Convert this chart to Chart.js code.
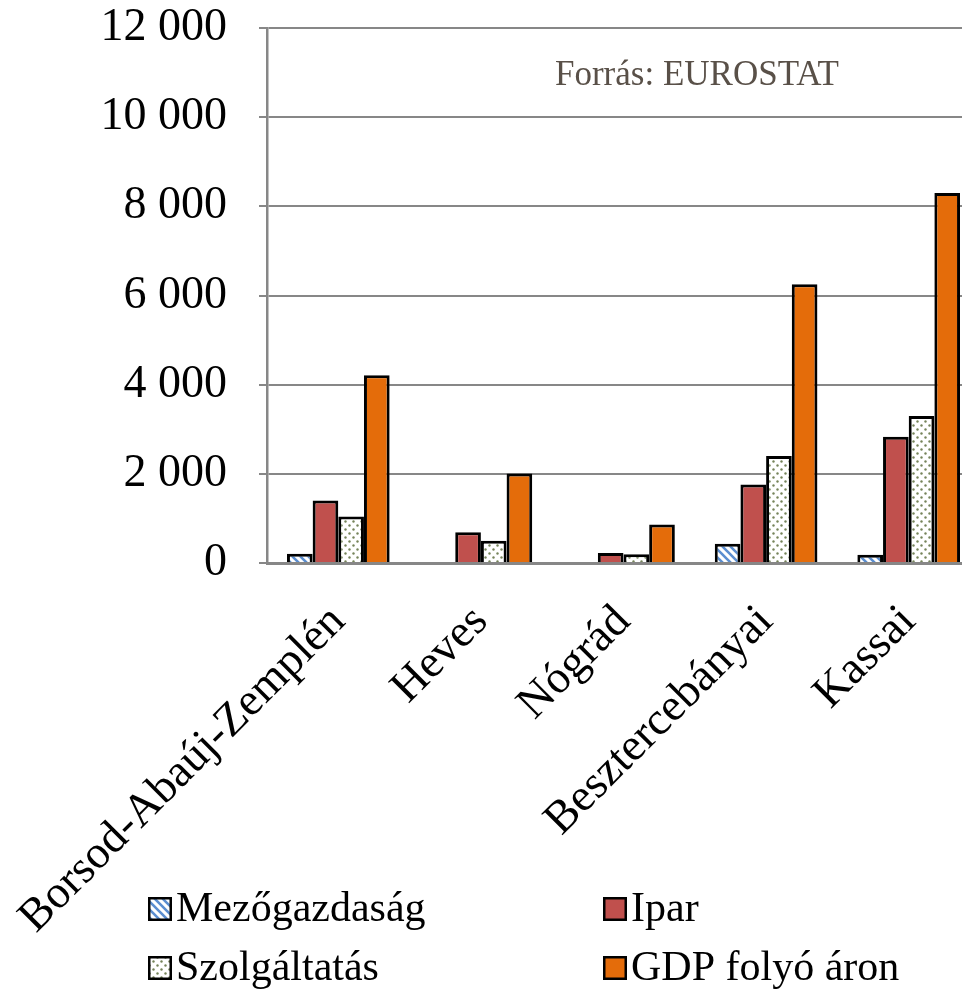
<!DOCTYPE html>
<html>
<head>
<meta charset="utf-8">
<script src="https://cdn.jsdelivr.net/npm/chart.js@4.4.1/dist/chart.umd.min.js"></script>
<style>
  html, body { margin: 0; padding: 0; background: #fff; overflow: hidden; }
  #wrap { position: relative; width: 962px; height: 989px; overflow: hidden; }
  canvas { display: block; }
</style>
</head>
<body>
<div id="wrap"><canvas id="c" width="1000" height="989"></canvas></div>
<script>
// ---- data ----
const categories = ['Borsod-Abaúj-Zemplén', 'Heves', 'Nógrád', 'Besztercebányai', 'Kassai'];
const seriesNames = ['Mezőgazdaság', 'Ipar', 'Szolgáltatás', 'GDP folyó áron'];
const mezogazdasag = [205, null, null, 430, 185];
const ipar = [1400, 690, 225, 1760, 2830];
const szolgaltatas = [1045, 500, 195, 2400, 3300];
const gdp = [4210, 2010, 865, 6250, 8300];
const yTicks = [0, 2000, 4000, 6000, 8000, 10000, 12000];
const sourceNote = 'Forrás: EUROSTAT';

const canvas = document.getElementById('c');
const ctx = canvas.getContext('2d');

function stripePattern() {
  const c = document.createElement('canvas');
  c.width = 8; c.height = 8;
  const x = c.getContext('2d');
  x.fillStyle = '#ffffff'; x.fillRect(0, 0, 8, 8);
  x.strokeStyle = '#5B8ED0'; x.lineWidth = 2.6;
  x.beginPath();
  x.moveTo(-2, -2); x.lineTo(10, 10);
  x.moveTo(-2, 6); x.lineTo(2, 10);
  x.moveTo(6, -2); x.lineTo(10, 2);
  x.stroke();
  return ctx.createPattern(c, 'repeat');
}
function dotPattern() {
  const c = document.createElement('canvas');
  c.width = 8; c.height = 8;
  const x = c.getContext('2d');
  x.fillStyle = '#ffffff'; x.fillRect(0, 0, 8, 8);
  x.fillStyle = '#76845A';
  x.beginPath(); x.arc(1.5, 1.5, 1.2, 0, Math.PI * 2); x.fill();
  x.beginPath(); x.arc(5.5, 5.5, 1.2, 0, Math.PI * 2); x.fill();
  return ctx.createPattern(c, 'repeat');
}

const fills = [stripePattern(), '#C0504D', dotPattern(), '#E46C0A'];
const values = [mezogazdasag, ipar, szolgaltatas, gdp];

const fmt = v => String(v).replace(/\B(?=(\d{3})+(?!\d))/g, ' ');

const overlay = {
  id: 'overlay',
  afterDraw(chart) {
    const c = chart.ctx;
    c.save();
    // source note
    c.font = '35px "Liberation Serif"';
    c.fillStyle = '#595048';
    c.textAlign = 'left';
    c.textBaseline = 'alphabetic';
    c.fillText(sourceNote, 555, 85);
    // legend (2 columns)
    const cols = [148, 603];
    const rows = [909, 968];
    c.font = '42px "Liberation Serif"';
    chart.data.datasets.forEach((ds, i) => {
      const bx = cols[i % 2], cy = rows[Math.floor(i / 2)];
      c.fillStyle = ds.backgroundColor;
      c.fillRect(bx, cy - 12, 24, 24);
      c.strokeStyle = '#000';
      c.lineWidth = 2.5;
      c.strokeRect(bx + 1.25, cy - 10.75, 21.5, 21.5);
      c.fillStyle = '#000';
      c.fillText(ds.label, bx + 28, cy + 12);
    });
    c.restore();
  }
};

new Chart(ctx, {
  type: 'bar',
  data: {
    labels: categories,
    datasets: seriesNames.map((n, i) => ({
      label: n,
      data: values[i],
      backgroundColor: fills[i],
      borderColor: '#000',
      borderWidth: 3,
      categoryPercentage: 0.72,
      barPercentage: 1.0
    }))
  },
  options: {
    responsive: false,
    animation: false,
    layout: { padding: { top: 28, right: 20, left: 0, bottom: 0 } },
    plugins: { legend: { display: false }, tooltip: { enabled: false } },
    scales: {
      x: {
        grid: { display: false, drawTicks: false },
        border: { color: '#878787', width: 3 },
        ticks: {
          font: { family: 'Liberation Serif', size: 46 },
          color: '#000',
          minRotation: 45, maxRotation: 45,
          autoSkip: false,
          padding: 32
        },
        afterFit(s) { s.height = 989 - 563; s.paddingLeft = 0; s.paddingRight = 0; }
      },
      y: {
        min: 0, max: 12000,
        afterBuildTicks(s) { s.ticks = yTicks.map(v => ({ value: v })); },
        ticks: {
          font: { family: 'Liberation Serif', size: 46 },
          color: '#000',
          padding: 32,
          callback: v => fmt(v)
        },
        grid: { color: '#878787', lineWidth: 2, tickLength: 8 },
        border: { color: '#878787', width: 2.5 },
        afterFit(s) { s.width = 267; s.paddingTop = 0; s.paddingBottom = 0; }
      }
    }
  },
  plugins: [overlay]
});
</script>
</body>
</html>
